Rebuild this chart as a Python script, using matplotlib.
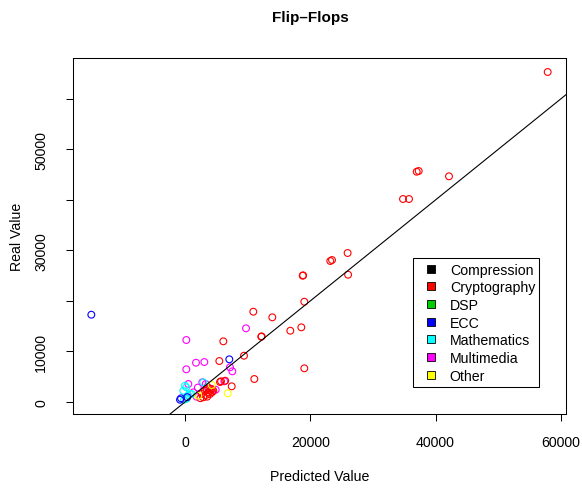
import matplotlib
matplotlib.use("Agg")
import matplotlib.pyplot as plt
from matplotlib.lines import Line2D

plt.rcParams['font.family'] = ['Liberation Sans', 'DejaVu Sans']

# category names and colours (R palette)
categories = ["Compression", "Cryptography", "DSP", "ECC", "Mathematics", "Multimedia", "Other"]
cat_colors = ["#000000", "#FF0000", "#00CD00", "#0000FF", "#00FFFF", "#FF00FF", "#FFFF00"]

# predicted / real values
crypto_x = [57928, 36988, 37308, 42151, 34799, 35758, 25943, 23178, 23450, 18766, 18830,
            26023, 19022, 10870, 13907, 16784, 18542, 12148, 12200, 9383, 19022, 11029,
            6074, 5435, 5547, 5707, 7417, 2621, 3149, 3420, 3836, 4220, 4476, 2877, 3676,
            3948, 3308, 4000, 3500, 2400, 4300, 6378]
crypto_y = [65352, 45590, 45728, 44678, 40178, 40178, 29475, 27889, 28087, 24975, 25050,
            25173, 19822, 17839, 16729, 14073, 14747, 12884, 12950, 9118, 6620, 4500,
            11972, 8067, 3905, 4043, 3052, 1526, 2180, 2517, 2656, 2517, 2180, 872, 1863,
            1526, 1328, 2200, 1000, 700, 1900, 4162]

ecc_x = [-15026, 7033, -687, -847, 300]
ecc_y = [17245, 8404, 674, 396, 900]

math_x = [160, -48, -208, 480, 751, 1023, 2877, -320, 200]
math_y = [2854, 3171, 396, 1189, 1526, 1526, 3845, 2180, 600]

mm_x = [160, 1710, 3037, 160, 9703, 7145, 7513, 6234, 480, 2717, 3260, 1279, 2000, 1800,
        4860, 3580]
mm_y = [12230, 7730, 7869, 6422, 14549, 6819, 6026, 4043, 3508, 3845, 3508, 1863, 2800, 1000,
        2378, 2854]

other_x = [6777, 2078, 4220]
other_y = [1665, 1189, 3310]

fig = plt.figure(figsize=(5.82, 4.89), dpi=100)
ax = fig.add_axes([0.126, 0.1513, 0.847, 0.7274])

pts = dict(s=24, facecolors='none', linewidths=0.8)
ax.scatter(mm_x, mm_y, edgecolors=cat_colors[5], **pts)
ax.scatter(math_x, math_y, edgecolors=cat_colors[4], **pts)
ax.scatter(ecc_x, ecc_y, edgecolors=cat_colors[3], **pts)
ax.scatter(crypto_x, crypto_y, edgecolors=cat_colors[1], **pts)
ax.scatter(other_x, other_y, edgecolors=cat_colors[6], **pts)

# y = x reference line
ax.axline((0, 0), slope=1, color='black', linewidth=0.8)

ax.set_xlim(-17903, 60902)
ax.set_ylim(-2438, 68067)

ax.set_xticks([0, 20000, 40000, 60000])
ax.set_xticklabels(["0", "20000", "40000", "60000"])
ax.set_yticks([0, 10000, 20000, 30000, 40000, 50000, 60000])
ax.set_yticklabels(["0", "10000", "", "30000", "", "50000", ""], rotation=90, va='center')
ax.tick_params(axis='both', direction='out', length=5, width=0.75, labelsize=10.2)
ax.tick_params(axis='x', pad=10)
ax.tick_params(axis='y', pad=13)
for sp in ax.spines.values():
    sp.set_linewidth(0.75)

ax.set_xlabel("Predicted Value", fontsize=10.2)
ax.xaxis.set_label_coords(0.5, -0.155)
ax.set_ylabel("Real Value", fontsize=10.2)
ax.yaxis.set_label_coords(-0.1, 0.5)

fig.text(0.5335, 0.963, "Flip\u2013Flops", ha='center', va='center',
         fontsize=11, fontweight='bold')

handles = [Line2D([], [], marker='s', linestyle='none', markersize=5.5,
                  markerfacecolor=c, markeredgecolor='black', markeredgewidth=0.6)
           for c in cat_colors]
leg = ax.legend(handles, categories, loc='lower left', bbox_to_anchor=(0.689, 0.076),
                borderaxespad=0, fontsize=10.2, handlelength=1.9,
                handletextpad=0.4, labelspacing=0.26, borderpad=0.3,
                fancybox=False, framealpha=1, edgecolor='black')
leg.get_frame().set_linewidth(0.75)

fig.savefig("out.png", dpi=100)
